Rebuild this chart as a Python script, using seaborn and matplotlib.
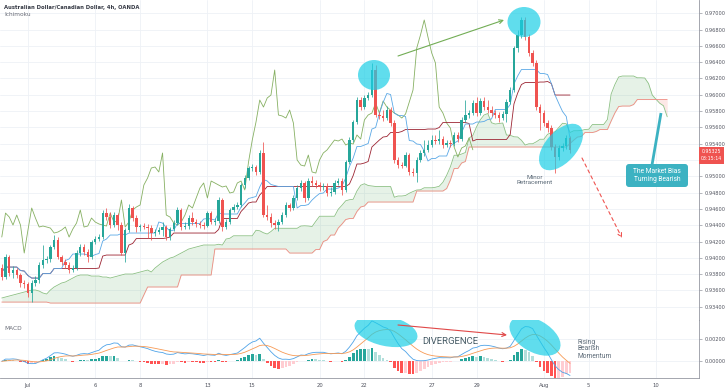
import numpy as np
import pandas as pd
import matplotlib
matplotlib.use("Agg")
import matplotlib.pyplot as plt
import seaborn as sns
from matplotlib.patches import Ellipse, FancyBboxPatch, Rectangle

# ---------------- data (AUD/CAD 4h candles) ----------------
first_open = 0.93875
closes = [
    0.93764, 0.94010, 0.93813, 0.93850, 0.93789, 0.93691, 0.93678, 0.93568, 0.93691, 0.93727,
    0.93911, 0.93973, 0.93985, 0.94132, 0.94218, 0.94010, 0.93948, 0.93911, 0.93850, 0.93875,
    0.94059, 0.94132, 0.94071, 0.94010, 0.94194, 0.94230, 0.94255, 0.94549, 0.94500, 0.94402,
    0.94525, 0.94402, 0.94059, 0.94341, 0.94611, 0.94488, 0.94378, 0.94390, 0.94378, 0.94365,
    0.94304, 0.94316, 0.94341, 0.94378, 0.94255, 0.94353, 0.94427, 0.94586, 0.94378, 0.94390,
    0.94488, 0.94439, 0.94415, 0.94402, 0.94390, 0.94549, 0.94439, 0.94451, 0.94709, 0.94378,
    0.94439, 0.94586, 0.94623, 0.94648, 0.94893, 0.94979, 0.95102, 0.95114, 0.95053, 0.95286,
    0.94525, 0.94500, 0.94427, 0.94402, 0.94439, 0.94525, 0.94648, 0.94611, 0.94734, 0.94856,
    0.94918, 0.94734, 0.94942, 0.94918, 0.94893, 0.94869, 0.94881, 0.94795, 0.94807, 0.94918,
    0.94942, 0.94832, 0.95175, 0.95445, 0.95666, 0.95936, 0.95850, 0.95961, 0.95997, 0.96304,
    0.95752, 0.95740, 0.95715, 0.95813, 0.95654, 0.95200, 0.95138, 0.95126, 0.95261, 0.95053,
    0.95040, 0.95200, 0.95286, 0.95323, 0.95384, 0.95445, 0.95433, 0.95457, 0.95384, 0.95408,
    0.95396, 0.95507, 0.95457, 0.95691, 0.95752, 0.95776, 0.95899, 0.95776, 0.95924, 0.95850,
    0.95813, 0.95776, 0.95752, 0.95715, 0.95764, 0.95911, 0.96059, 0.96574, 0.96734, 0.96918,
    0.96709, 0.96513, 0.96390, 0.95850, 0.95776, 0.95654, 0.95592, 0.95359, 0.95237, 0.95347,
    0.95372, 0.95470, 0.95325,
]
highs = [
    0.93924, 0.94046, 0.94034, 0.93899, 0.93875, 0.93813, 0.93727, 0.93703, 0.93727, 0.93776,
    0.93948, 0.94157, 0.94022, 0.94157, 0.94280, 0.94255, 0.94034, 0.93985, 0.93948, 0.93911,
    0.94095, 0.94169, 0.94169, 0.94108, 0.94218, 0.94267, 0.94292, 0.94586, 0.94611, 0.94562,
    0.94562, 0.94549, 0.94439, 0.94365, 0.94660, 0.94635, 0.94525, 0.94415, 0.94427, 0.94415,
    0.94402, 0.94353, 0.94378, 0.94439, 0.94402, 0.94378, 0.94464, 0.94623, 0.94611, 0.94439,
    0.94525, 0.94562, 0.94476, 0.94451, 0.94439, 0.94574, 0.94574, 0.94488, 0.94746, 0.94734,
    0.94476, 0.94611, 0.94660, 0.94684, 0.94918, 0.95016, 0.95126, 0.95151, 0.95138, 0.95323,
    0.95421, 0.94648, 0.94549, 0.94464, 0.94476, 0.94562, 0.94684, 0.94672, 0.94770, 0.94893,
    0.94954, 0.94942, 0.94979, 0.95003, 0.94954, 0.94930, 0.94918, 0.94918, 0.94869, 0.94954,
    0.94979, 0.94979, 0.95200, 0.95482, 0.95691, 0.95973, 0.95973, 0.95997, 0.96034, 0.96390,
    0.96365, 0.95789, 0.95813, 0.95862, 0.95850, 0.95691, 0.95237, 0.95175, 0.95298, 0.95286,
    0.95102, 0.95237, 0.95323, 0.95445, 0.95445, 0.95507, 0.95507, 0.95568, 0.95494, 0.95445,
    0.95445, 0.95543, 0.95543, 0.95727, 0.95936, 0.95813, 0.95936, 0.95973, 0.95961, 0.95973,
    0.95936, 0.95862, 0.95813, 0.95789, 0.95801, 0.95948, 0.96096, 0.96599, 0.96795, 0.96954,
    0.96954, 0.96746, 0.96549, 0.96427, 0.95887, 0.95813, 0.95691, 0.95629, 0.95396, 0.95384,
    0.95408, 0.95507, 0.95494,
]
lows = [
    0.93727, 0.93740, 0.93776, 0.93752, 0.93752, 0.93642, 0.93629, 0.93519, 0.93457, 0.93654,
    0.93691, 0.93875, 0.93936, 0.93948, 0.94108, 0.93985, 0.93911, 0.93875, 0.93813, 0.93826,
    0.93850, 0.94022, 0.94034, 0.93948, 0.93985, 0.94169, 0.94206, 0.94230, 0.94464, 0.94365,
    0.94378, 0.94341, 0.94034, 0.93948, 0.94316, 0.94451, 0.94316, 0.94329, 0.94353, 0.94243,
    0.94218, 0.94267, 0.94292, 0.94267, 0.94218, 0.94218, 0.94329, 0.94402, 0.94341, 0.94353,
    0.94353, 0.94402, 0.94378, 0.94365, 0.94353, 0.94378, 0.94415, 0.94402, 0.94427, 0.94329,
    0.94353, 0.94415, 0.94562, 0.94599, 0.94623, 0.94856, 0.94954, 0.95065, 0.95016, 0.95028,
    0.94500, 0.94464, 0.94378, 0.94353, 0.94329, 0.94415, 0.94500, 0.94574, 0.94586, 0.94709,
    0.94819, 0.94684, 0.94709, 0.94881, 0.94856, 0.94819, 0.94832, 0.94758, 0.94758, 0.94783,
    0.94893, 0.94770, 0.94807, 0.95151, 0.95421, 0.95642, 0.95813, 0.95826, 0.95936, 0.95973,
    0.95727, 0.95703, 0.95678, 0.95691, 0.95617, 0.95163, 0.95102, 0.95102, 0.95114, 0.95016,
    0.95003, 0.94930, 0.95175, 0.95249, 0.95298, 0.95359, 0.95396, 0.95396, 0.95347, 0.95359,
    0.95359, 0.95372, 0.95421, 0.95433, 0.95666, 0.95715, 0.95752, 0.95740, 0.95752, 0.95813,
    0.95776, 0.95740, 0.95715, 0.95666, 0.95691, 0.95666, 0.95887, 0.96034, 0.96525, 0.96697,
    0.96672, 0.96476, 0.96353, 0.95813, 0.95568, 0.95617, 0.95543, 0.95323, 0.95040, 0.95200,
    0.95310, 0.95335, 0.95286,
]
# leading spans at the left edge (their source bars lie before the window)
span_a_early = [
    0.93507, 0.93519, 0.93531, 0.93543, 0.93556, 0.93568, 0.93580, 0.93592, 0.93605, 0.93605,
    0.93592, 0.93568, 0.93556, 0.93605, 0.93642, 0.93666, 0.93691, 0.93703, 0.93727, 0.93752,
    0.93776, 0.93789, 0.93789, 0.93789, 0.93776, 0.93776, 0.93776, 0.93764, 0.93764, 0.93752,
    0.93764, 0.93776, 0.93789, 0.93801, 0.93801, 0.93801, 0.93813, 0.93826, 0.93838, 0.93850,
    0.93826, 0.93875, 0.93911, 0.93948, 0.93973, 0.93997, 0.94010, 0.94034, 0.94059, 0.94083,
    0.94108, 0.94120, 0.94132, 0.94145, 0.94157,
]
span_b_early = ([0.93457] * 13 + [0.93445] * 25 + [0.93543] + [0.93642] * 9
                + [0.93789] * 9 + [0.94108] * 20)

date_ticks = [7, 25, 37, 55, 67, 85, 97, 115, 127, 145, 157, 175]
date_labels = ["Jul", "6", "8", "13", "15", "20", "22", "27", "29", "Aug", "5", "10"]
price_ticks = [0.934, 0.936, 0.938, 0.940, 0.942, 0.944, 0.946, 0.948, 0.950, 0.952,
               0.954, 0.956, 0.958, 0.960, 0.962, 0.964, 0.966, 0.968, 0.970]
macd_ticks = [0.0, 0.002]
last_price_label = "0.95325"
countdown_label = "03:15:14"

# ---------------- indicators ----------------
df = pd.DataFrame({"close": closes, "high": highs, "low": lows})
df["open"] = [first_open] + closes[:-1]
n = len(df)
idx = np.arange(n)

hh9 = df.high.rolling(9, min_periods=1).max(); ll9 = df.low.rolling(9, min_periods=1).min()
hh26 = df.high.rolling(26, min_periods=1).max(); ll26 = df.low.rolling(26, min_periods=1).min()
hh52 = df.high.rolling(52, min_periods=1).max(); ll52 = df.low.rolling(52, min_periods=1).min()
tenkan = (hh9 + ll9) / 2
kijun = (hh26 + ll26) / 2
lead_idx = np.arange(n + 26)
span_a = np.full(n + 26, np.nan); span_a[26:] = ((tenkan + kijun) / 2).values
span_b = np.full(n + 26, np.nan); span_b[26:] = ((hh52 + ll52) / 2).values
span_a[:len(span_a_early)] = span_a_early
span_b[:len(span_b_early)] = span_b_early
chikou = df.close.values[26:]
chikou_idx = idx[:-26]

ema12 = df.close.ewm(span=12, adjust=False).mean()
ema26 = df.close.ewm(span=26, adjust=False).mean()
macd = ema12 - ema26
signal = macd.ewm(span=9, adjust=False).mean()
hist = (macd - signal).values
prev = np.concatenate([[0.0], hist[:-1]])
hist_colors = np.where(hist >= 0, np.where(hist >= prev, "#26a69a", "#b2dfdb"),
                       np.where(hist <= prev, "#ff5252", "#ffcdd2"))

# ---------------- figure ----------------
sns.set_theme(style="white")
plt.rcParams["font.family"] = ["DejaVu Sans"]

TEAL = "#26a69a"; RED = "#ef5350"
GRID = "#eef1f6"; AXC = "#9598a1"; TXT = "#50535e"
W, H = 728, 391
fig = plt.figure(figsize=(W / 100, H / 100), dpi=100)
fig.patch.set_facecolor("white")
ax = fig.add_axes([0, 1 - 320 / H, 699 / W, 320 / H])
ax2 = fig.add_axes([0, 1 - 378 / H, 699 / W, 58 / H])

XL = (-0.48, 186.5)
for a in (ax, ax2):
    a.set_xlim(*XL)
    a.set_facecolor("white")
    a.set_axisbelow(True)
    a.set_xticks(date_ticks)
    a.grid(True, color=GRID, lw=0.6)
    for s in ("left", "top"):
        a.spines[s].set_visible(False)
    for s in ("right", "bottom"):
        a.spines[s].set_color(AXC)
        a.spines[s].set_linewidth(0.6)
    a.yaxis.tick_right()
    a.tick_params(axis="y", length=2.5, width=0.5, color=AXC, labelsize=3.6,
                  labelcolor=TXT, pad=1.5)

# cloud
ax.fill_between(lead_idx, span_a, span_b, where=span_a >= span_b, interpolate=True,
                color="#43a047", alpha=0.13, lw=0)
ax.fill_between(lead_idx, span_a, span_b, where=span_a < span_b, interpolate=True,
                color="#f44336", alpha=0.12, lw=0)
sns.lineplot(x=lead_idx, y=span_a, ax=ax, color="#8cc084", lw=0.6)
sns.lineplot(x=lead_idx, y=span_b, ax=ax, color="#ef8a80", lw=0.6)
sns.lineplot(x=chikou_idx, y=chikou, ax=ax, color="#86b062", lw=0.6)
sns.lineplot(x=idx, y=kijun.values, ax=ax, color="#9c2432", lw=0.6)
sns.lineplot(x=idx, y=tenkan.values, ax=ax, color="#5aa8e6", lw=0.6)

# candles
up = df.close.values >= df.open.values
ccol = np.where(up, TEAL, RED)
ax.vlines(idx, df.low, df.high, colors=ccol, lw=0.55, zorder=3)
body_bot = np.minimum(df.open.values, df.close.values)
body_h = np.maximum(np.abs(df.close.values - df.open.values), 0.00004)
ax.bar(idx, body_h, bottom=body_bot, width=0.64, color=ccol, lw=0, zorder=4)

ax.set_ylim(0.93237, 0.97163)
ax.set_yticks(price_ticks)
# the axis label covered by the last-price tag is hidden, as on the platform
last_close = closes[-1]
ax.set_yticklabels(["" if (last_close - 0.0016) < p < (last_close + 0.0004) else f"{p:.5f}"
                    for p in price_ticks])
ax.tick_params(axis="x", length=0, labelbottom=False)
ax.set_xlabel(""); ax.set_ylabel("")

# MACD pane
ax2.bar(idx, hist, width=0.72, color=hist_colors, lw=0, zorder=2)
sns.lineplot(x=idx, y=macd.values, ax=ax2, color="#4ea3e8", lw=0.6)
sns.lineplot(x=idx, y=signal.values, ax=ax2, color="#f79a55", lw=0.6)
ax2.set_ylim(-0.001478, 0.003655)
ax2.set_yticks(macd_ticks)
ax2.set_yticklabels([f"{v:.5f}" for v in macd_ticks])
ax2.set_xticklabels(date_labels)
ax2.tick_params(axis="x", length=0, labelsize=3.8, labelcolor=TXT, pad=3.5)
ax2.set_xlabel(""); ax2.set_ylabel("")

# ---------------- overlay annotations (pixel space) ----------------
ov = fig.add_axes([0, 0, 1, 1], zorder=10)
ov.set_xlim(0, W); ov.set_ylim(H, 0); ov.axis("off"); ov.patch.set_alpha(0)
CYAN = "#1ccfe6"

for (cx, cy, w, h, ang) in [(374, 75, 32, 30, 0), (524, 22, 33, 30, 0), (561, 147, 56, 31, -48)]:
    ov.add_patch(Ellipse((cx, cy), w, h, angle=ang, fc=CYAN, ec="none", alpha=0.7))
clip = Rectangle((0, 320), 699, 58, transform=ov.transData)
for (cx, cy, w, h, ang) in [(386, 331, 64, 30, 12), (535, 336, 56, 32, 30)]:
    e = Ellipse((cx, cy), w, h, angle=ang, fc=CYAN, ec="none", alpha=0.7)
    ov.add_patch(e); e.set_clip_path(clip)

ov.annotate("", xy=(504, 20), xytext=(398, 56),
            arrowprops=dict(arrowstyle="->", color="#72ad55", lw=0.8, shrinkA=0, shrinkB=0,
                            mutation_scale=7))
ov.annotate("", xy=(507, 335), xytext=(398, 325),
            arrowprops=dict(arrowstyle="->", color="#e04848", lw=0.8, shrinkA=0, shrinkB=0,
                            mutation_scale=7))
ov.annotate("", xy=(622, 238), xytext=(582, 158),
            arrowprops=dict(arrowstyle="->", color="#ef5350", lw=0.8, ls=(0, (3, 3)),
                            shrinkA=0, shrinkB=0, mutation_scale=7))

ov.text(450, 341, "DIVERGENCE", fontsize=6.8, color="#455a64", ha="center", va="center",
        family=["Roboto", "DejaVu Sans"])
ov.text(578, 349, "Rising\nBearish\nMomentum", fontsize=4.8, color="#5d6b78", ha="left",
        va="center", linespacing=1.0, family=["Roboto", "DejaVu Sans"])
ov.text(535, 180, "Minor\nRetracement", fontsize=4.6, color="#5d6b78", ha="center",
        va="center", linespacing=1.05, family=["Roboto", "DejaVu Sans"])

ov.plot([652, 661], [165, 113], color="#3cb2c2", lw=2.0, solid_capstyle="butt")
ov.add_patch(FancyBboxPatch((626, 164), 62, 23, boxstyle="round,pad=0,rounding_size=3",
                            fc="#3cb2c2", ec="none"))
ov.text(657, 175.5, "The Market Bias\nTurning Bearish", fontsize=4.8, color="white",
        ha="center", va="center", linespacing=1.1, family=["Roboto", "DejaVu Sans"])

ov.text(4, 7, "Australian Dollar/Canadian Dollar, 4h, OANDA", fontsize=3.75, color="#363a45",
        ha="left", va="center", fontweight="bold")
ov.text(4, 15, "Ichimoku", fontsize=4.2, color="#6a6d78", ha="left", va="center")
ov.text(4, 328, "MACD", fontsize=4.2, color="#6a6d78", ha="left", va="center")

ov.add_patch(Rectangle((699, 146.5), 25, 17, fc="#ef5350", ec="none"))
ov.text(711.5, 155, last_price_label + "\n" + countdown_label, fontsize=3.4, color="white",
        ha="center", va="center", linespacing=1.35)

fig.savefig("out.png", dpi=100)
